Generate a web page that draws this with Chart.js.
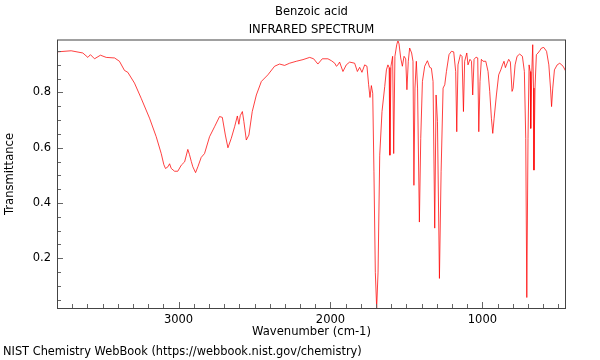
<!DOCTYPE html>
<html>
<head>
<meta charset="utf-8">
<script src="https://cdn.jsdelivr.net/npm/chart.js@4/dist/chart.umd.min.js"></script>
<style>
  body { margin: 0; background: #fff; }
  #wrap { width: 600px; height: 360px; }
</style>
</head>
<body>
<div id="wrap"><canvas id="irChart" width="600" height="360"></canvas></div>
<script>
const compound = "Benzoic acid";
const chartTitle = "INFRARED SPECTRUM";
const xTitle = "Wavenumber (cm-1)";
const yTitle = "Transmittance";
const source = "NIST Chemistry WebBook (https://webbook.nist.gov/chemistry)";

const xTicks = [3000, 2000, 1000];
const yTicks = [0.2, 0.4, 0.6, 0.8];

// wavenumber (cm-1)
const wavenumbers = [
  3800, 3707, 3630, 3597, 3580, 3553, 3514, 3476, 3421, 3389,
  3356, 3334, 3290, 3246, 3191, 3147, 3114, 3097, 3086, 3070,
  3059, 3048, 3026, 3005, 2982, 2960, 2939, 2928, 2916, 2906,
  2888, 2873, 2851, 2829, 2796, 2763, 2730, 2712, 2692, 2675,
  2653, 2631, 2613, 2603, 2594, 2580, 2570, 2554, 2537, 2515,
  2488, 2455, 2412, 2368, 2335, 2302, 2269, 2225, 2181, 2137,
  2111, 2083, 2054, 2017, 1994, 1972, 1961, 1951, 1940, 1918,
  1896, 1874, 1841, 1823, 1808, 1793, 1775, 1760, 1749, 1740,
  1731, 1722, 1714, 1705, 1696, 1687, 1676, 1661, 1643, 1632,
  1622, 1614, 1609, 1602, 1591, 1584, 1576, 1564, 1556, 1549,
  1538, 1527, 1516, 1505, 1497, 1488, 1479, 1466, 1457, 1451,
  1444, 1435, 1427, 1415, 1406, 1395, 1380, 1362, 1347, 1336,
  1325, 1314, 1305, 1296, 1283, 1272, 1259, 1248, 1237, 1220,
  1204, 1189, 1176, 1169, 1161, 1145, 1134, 1125, 1117, 1103,
  1095, 1082, 1072, 1064, 1055, 1042, 1031, 1024, 1016, 1007,
  996, 978, 963, 952, 941, 932, 923, 908, 893, 879,
  868, 858, 849, 838, 827, 816, 805, 798, 785, 772,
  755, 737, 724, 715, 708, 700, 693, 686, 682, 675,
  669, 664, 661, 654, 645, 634, 623, 611, 596, 578,
  563, 552, 545, 537, 526, 508, 491, 469, 451
];

const transmittance = [
  0.947, 0.951, 0.943, 0.927, 0.937, 0.922, 0.935, 0.927, 0.925, 0.913,
  0.880, 0.873, 0.834, 0.779, 0.707, 0.640, 0.579, 0.539, 0.525, 0.531,
  0.542, 0.525, 0.515, 0.515, 0.537, 0.549, 0.594, 0.575, 0.550, 0.531,
  0.510, 0.531, 0.565, 0.579, 0.640, 0.676, 0.713, 0.710, 0.646, 0.600,
  0.634, 0.676, 0.715, 0.685, 0.716, 0.731, 0.695, 0.628, 0.646, 0.731,
  0.791, 0.840, 0.864, 0.895, 0.903, 0.898, 0.906, 0.913, 0.919, 0.927,
  0.922, 0.903, 0.922, 0.922, 0.915, 0.906, 0.895, 0.900, 0.910, 0.876,
  0.900, 0.910, 0.906, 0.876, 0.891, 0.873, 0.900, 0.895, 0.828, 0.782,
  0.825, 0.797, 0.513, 0.149, 0.020, 0.150, 0.573, 0.731, 0.822, 0.882,
  0.900, 0.890, 0.573, 0.895, 0.931, 0.579, 0.931, 0.973, 0.988, 0.976,
  0.925, 0.895, 0.931, 0.922, 0.810, 0.913, 0.961, 0.943, 0.913, 0.464,
  0.816, 0.913, 0.816, 0.331, 0.634, 0.840, 0.895, 0.915, 0.891, 0.888,
  0.840, 0.309, 0.791, 0.695, 0.127, 0.513, 0.816, 0.828, 0.876, 0.937,
  0.949, 0.947, 0.876, 0.658, 0.900, 0.937, 0.930, 0.731, 0.913, 0.943,
  0.900, 0.920, 0.913, 0.791, 0.920, 0.928, 0.925, 0.658, 0.840, 0.920,
  0.913, 0.913, 0.876, 0.804, 0.707, 0.652, 0.707, 0.791, 0.864, 0.882,
  0.900, 0.913, 0.890, 0.906, 0.920, 0.910, 0.804, 0.815, 0.900, 0.931,
  0.939, 0.931, 0.876, 0.634, 0.058, 0.634, 0.900, 0.876, 0.670, 0.876,
  0.973, 0.816, 0.519, 0.816, 0.937, 0.943, 0.951, 0.961, 0.963, 0.949,
  0.900, 0.816, 0.749, 0.816, 0.882, 0.900, 0.906, 0.895, 0.876
];

Chart.defaults.font.family = "'DejaVu Sans', sans-serif";
Chart.defaults.font.size = 11.5;
Chart.defaults.color = "#000";

// frame, inward ticks and the loose texts
const decorations = {
  id: "decorations",
  afterDraw(chart) {
    const { ctx, chartArea: a, scales } = chart;
    const x = scales.x, y = scales.y;
    ctx.save();
    ctx.lineWidth = 1;
    ctx.strokeStyle = "#666";
    const seg = (x1, y1, x2, y2) => {
      ctx.beginPath();
      ctx.moveTo(x1, y1);
      ctx.lineTo(x2, y2);
      ctx.stroke();
    };
    for (let v = 500; v <= 3800; v += 100) {
      const px = Math.round(x.getPixelForValue(v)) + 0.5;
      const len = v % 1000 === 0 ? 6 : 4;
      seg(px, a.bottom, px, a.bottom - len);
    }
    for (let k = 1; k * 0.05 < y.max; k++) {
      const py = Math.round(y.getPixelForValue(k * 0.05)) + 0.5;
      const len = k % 4 === 0 ? 6 : 4;
      seg(a.left, py, a.left + len, py);
    }
    // frame
    ctx.strokeStyle = "#a0a0a0";
    ctx.lineWidth = 2;
    seg(a.left, a.top, a.right, a.top);
    ctx.strokeStyle = "#444";
    ctx.lineWidth = 1;
    seg(a.left + 0.5, a.top, a.left + 0.5, a.bottom);
    seg(a.left, a.bottom + 0.5, a.right, a.bottom + 0.5);
    seg(a.right - 0.5, a.top, a.right - 0.5, a.bottom);

    ctx.fillStyle = "#000";
    ctx.font = "11.6px 'DejaVu Sans'";
    ctx.textAlign = "center";
    ctx.textBaseline = "middle";
    const cx = (a.left + a.right) / 2;
    ctx.fillText(compound, cx, 12);
    ctx.fillText(chartTitle, cx, 30);
    ctx.fillText(xTitle, cx, 332);
    ctx.save();
    ctx.translate(10, (a.top + a.bottom) / 2);
    ctx.rotate(-Math.PI / 2);
    ctx.fillText(yTitle, 0, 0);
    ctx.restore();
    ctx.font = "11.4px 'DejaVu Sans'";
    ctx.textAlign = "left";
    ctx.fillText(source, 3, 352);
    ctx.restore();
  }
};

const ctx = document.getElementById("irChart").getContext("2d");
new Chart(ctx, {
  type: "line",
  data: {
    datasets: [
      {
        label: compound,
        data: wavenumbers.map((w, i) => ({ x: w, y: transmittance[i] })),
        borderColor: "rgba(255, 0, 0, 0.75)",
        borderWidth: 1,
        pointRadius: 0,
        tension: 0,
        fill: false,
      },
    ],
  },
  options: {
    responsive: false,
    animation: false,
    layout: { padding: { left: 0, top: 40, right: 34, bottom: 0 } },
    plugins: {
      legend: { display: false },
      tooltip: { enabled: false },
    },
    scales: {
      x: {
        type: "linear",
        reverse: true,
        min: 450,
        max: 3800,
        grid: { display: false, drawTicks: false },
        border: { display: false },
        ticks: { padding: 5, maxRotation: 0, callback: (v) => String(v) },
        afterBuildTicks: (s) => { s.ticks = xTicks.map((v) => ({ value: v })); },
        afterFit: (s) => { s.height = 52; },
      },
      y: {
        min: 0.02,
        max: 0.99,
        grid: { display: false, drawTicks: false },
        border: { display: false },
        ticks: { padding: 6, callback: (v) => String(v) },
        afterBuildTicks: (s) => { s.ticks = yTicks.map((v) => ({ value: v })); },
        afterFit: (s) => { s.width = 57; },
      },
    },
  },
  plugins: [decorations],
});
</script>
</body>
</html>
